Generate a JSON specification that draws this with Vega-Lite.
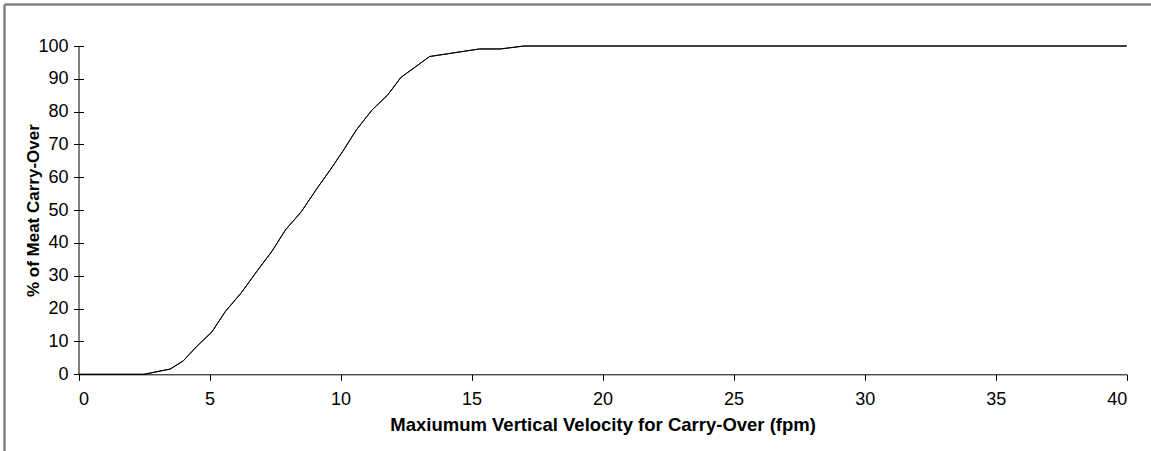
{
  "$schema": "https://vega.github.io/schema/vega-lite/v6.json",
  "width": 1147,
  "height": 447,
  "autosize": {"type": "none"},
  "padding": {"left": 4, "top": 4, "right": 0, "bottom": 0},
  "background": "white",
  "config": {
    "view": {"stroke": null},
    "font": "Liberation Sans",
    "axis": {
      "grid": false,
      "domainColor": "black",
      "domainWidth": 1,
      "tickColor": "black",
      "tickWidth": 1,
      "labelColor": "black",
      "labelFont": "Liberation Sans",
      "labelFontSize": 18,
      "titleColor": "black",
      "titleFont": "Liberation Sans",
      "titleFontWeight": "bold"
    }
  },
  "data": {
    "values": [
      {"v": 0, "p": 0},
      {"v": 2.5, "p": 0},
      {"v": 3.5, "p": 1.6},
      {"v": 4, "p": 4.1},
      {"v": 4.5, "p": 8.4},
      {"v": 5.1, "p": 13},
      {"v": 5.6, "p": 19.1},
      {"v": 6.2, "p": 24.7},
      {"v": 6.8, "p": 31.3},
      {"v": 7.4, "p": 37.7},
      {"v": 7.9, "p": 44},
      {"v": 8.5, "p": 49.5},
      {"v": 9.1, "p": 56.6},
      {"v": 9.6, "p": 62.2},
      {"v": 10.1, "p": 68.1},
      {"v": 10.6, "p": 74.4},
      {"v": 11.2, "p": 80.5},
      {"v": 11.8, "p": 85.1},
      {"v": 12.3, "p": 90.4},
      {"v": 13.4, "p": 96.8},
      {"v": 15.3, "p": 99.1},
      {"v": 16.1, "p": 99.1},
      {"v": 17, "p": 100},
      {"v": 40, "p": 100}
    ]
  },
  "layer": [
    {
      "mark": {"type": "line", "color": "black", "strokeWidth": 1},
      "encoding": {
        "x": {
          "field": "v", "type": "quantitative",
          "scale": {"domain": [0, 40], "range": [74.5, 1122.7], "nice": false, "zero": false},
          "axis": {
            "title": "Maxiumum Vertical Velocity for Carry-Over (fpm)",
            "titleFontSize": 18.5,
            "values": [0, 5, 10, 15, 20, 25, 30, 35, 40],
            "offset": -76.7,
            "tickSize": 6,
            "labelPadding": 10.5,
            "titlePadding": 6.5
          }
        },
        "y": {
          "field": "p", "type": "quantitative",
          "scale": {"domain": [0, 100], "range": [370.3, 42], "nice": false},
          "axis": {
            "title": "% of Meat Carry-Over",
            "titleFontSize": 17,
            "orient": "left",
            "values": [0, 10, 20, 30, 40, 50, 60, 70, 80, 90, 100],
            "offset": -74.5,
            "tickSize": 5,
            "labelPadding": 5.5,
            "titlePadding": -5
          }
        }
      }
    },
    {
      "mark": {"type": "line", "color": "black", "strokeWidth": 1},
      "encoding": {
        "x": {
          "field": "v", "type": "quantitative",
          "scale": {"domain": [0, 40], "range": [74.5, 1122.7], "nice": false, "zero": false},
          "axis": null
        },
        "y": {
          "field": "p", "type": "quantitative",
          "scale": {"domain": [0, 100], "range": [370.3, 42], "nice": false},
          "axis": {
            "orient": "left",
            "title": null,
            "labels": false,
            "domain": false,
            "values": [0, 10, 20, 30, 40, 50, 60, 70, 80, 90, 100],
            "offset": -74.5,
            "tickSize": -5
          }
        }
      }
    },
    {
      "mark": {"type": "line", "opacity": 0},
      "encoding": {
        "x": {
          "field": "v", "type": "quantitative",
          "axis": {
            "orient": "top",
            "title": null,
            "labels": false,
            "ticks": false,
            "domainColor": "#808080",
            "domainWidth": 2.5
          }
        },
        "y": {
          "field": "p", "type": "quantitative",
          "axis": {
            "orient": "left",
            "title": null,
            "labels": false,
            "ticks": false,
            "domainColor": "#808080",
            "domainWidth": 2.5
          }
        }
      }
    }
  ],
  "resolve": {
    "scale": {"x": "independent", "y": "independent"},
    "axis": {"x": "independent", "y": "independent"}
  }
}
